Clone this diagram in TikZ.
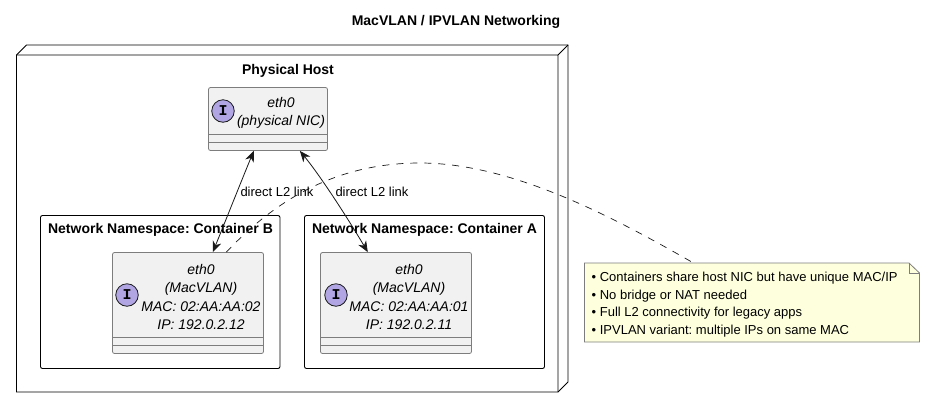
\documentclass[tikz,border=0pt]{standalone}
\usepackage{fontspec}
\setmainfont{Liberation Sans}
\setmonofont{Liberation Mono}
\usetikzlibrary{arrows.meta}
\frenchspacing
\tikzset{
	iface/.style={draw=ifaceline, fill=ifacefill, rounded corners=2pt, line width=0.8pt, inner sep=0pt},
	ifacetext/.style={font=\itshape\fontsize{14}{18.3}\selectfont, align=center, inner sep=0pt},
	spot/.style={circle, draw=black!90, fill=spotfill, line width=0.8pt, minimum size=22.5pt, inner sep=0pt, font=\ttfamily\bfseries\fontsize{15}{15}\selectfont},
	sep/.style={draw=ifaceline, line width=0.8pt},
	ns/.style={draw=black, rounded corners=2pt, line width=0.9pt, inner sep=0pt},
	nstitle/.style={font=\bfseries\fontsize{14}{14}\selectfont, inner sep=0pt},
	linktext/.style={font=\fontsize{13}{14}\selectfont, inner sep=0pt},
	link/.style={line width=0.8pt, black!90, {Stealth[length=11pt,width=9pt,inset=3.5pt]}-{Stealth[length=11pt,width=9pt,inset=3.5pt]}},
	notelink/.style={line width=0.7pt, black!90, dash pattern=on 7pt off 7pt}
}

\begin{document}
\begin{tikzpicture}[x=1pt,y=-1pt]
	\definecolor{ifacefill}{RGB}{241,241,241}
	\definecolor{ifaceline}{RGB}{125,125,125}
	\definecolor{spotfill}{RGB}{177,165,228}
	\definecolor{notefill}{RGB}{254,255,221}
	\useasboundingbox (0,0) rectangle (925,408);
	\node[font=\bfseries\fontsize{14}{14}\selectfont, inner sep=0pt] (title) at (456,21.5) {MacVLAN / IPVLAN Networking};
	% physical host
	\draw[line width=0.9pt, fill=white] (16.5,55) -- (26.5,45) -- (568,45) -- (568,382) -- (558,392) -- (16.5,392) -- cycle;
	\draw[line width=0.9pt] (16.5,55) -- (558,55) -- (568,45) (558,55) -- (558,392);
	\node[nstitle] (hosttitle) at (288,70.5) {Physical Host};
	% namespaces
	\node[ns, minimum width=239.5pt, minimum height=153pt] (nsB) at (160.25,292) {};
	\node[nstitle] (nsBtitle) at (160.5,229.5) {Network Namespace: Container B};
	\node[ns, minimum width=240pt, minimum height=153pt] (nsA) at (424.5,292) {};
	\node[nstitle] (nsAtitle) at (424.5,229.5) {Network Namespace: Container A};
	% interfaces
	\node[iface, minimum width=119pt, minimum height=63pt] (ethHost) at (268,119) {};
	\draw[sep] (208.5,134.5) -- (327.5,134.5) (208.5,142.5) -- (327.5,142.5);
	\node[spot] (spotHost) at (223,111) {I};
	\node[ifacetext] (ethHosttext) at (281,113) {eth0\\(physical NIC)};
	\node[iface, minimum width=151pt, minimum height=101pt] (ethB) at (188,303) {};
	\draw[sep] (112.5,337.5) -- (263.5,337.5) (112.5,345.5) -- (263.5,345.5);
	\node[spot] (spotB) at (127,295) {I};
	\node[ifacetext] (ethBtext) at (201,297) {eth0\\(MacVLAN)\\MAC: 02:AA:AA:02\\IP: 192.0.2.12};
	\node[iface, minimum width=151pt, minimum height=101pt] (ethA) at (396,303) {};
	\draw[sep] (320.5,337.5) -- (471.5,337.5) (320.5,345.5) -- (471.5,345.5);
	\node[spot] (spotA) at (336,295) {I};
	\node[ifacetext] (ethAtext) at (409,297) {eth0\\(MacVLAN)\\MAC: 02:AA:AA:01\\IP: 192.0.2.11};
	% note
	\node[minimum width=335pt, minimum height=79pt, inner sep=0pt] (note) at (752,302.5) {};
	\draw[draw=ifaceline, fill=notefill, line width=0.8pt] (584.5,263) -- (909,263) -- (919.5,273) -- (919.5,342) -- (584.5,342) -- cycle;
	\draw[draw=ifaceline, line width=0.8pt] (909,263) -- (909,273) -- (919.5,273);
	\node[font=\fontsize{13}{17.7}\selectfont, align=left, anchor=west, inner sep=0pt] (notetext) at (591.5,304.5) {• Containers share host NIC but have unique MAC/IP\\• No bridge or NAT needed\\• Full L2 connectivity for legacy apps\\• IPVLAN variant: multiple IPs on same MAC};
	% links
	\draw[link] (ethHost.-114) .. controls (245,172) and (225,222) .. (ethB.64.6);
	\draw[link] (ethHost.-45.5) .. controls (322,178) and (350,222) .. (ethA.119);
	\draw[notelink] (ethB.53.8) .. controls (280,195) and (342,163) .. (420,163) .. controls (510,163) and (610,215) .. (note.146.6);
	\node[linktext] (linkBtext) at (277,192) {direct L2 link};
	\node[linktext] (linkAtext) at (372,192) {direct L2 link};
\end{tikzpicture}
\end{document}
